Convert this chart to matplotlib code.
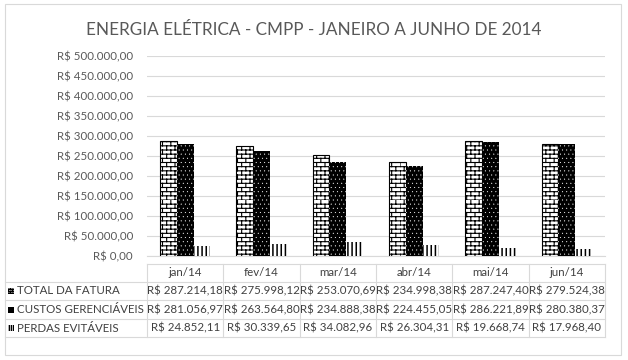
import numpy as np
import matplotlib
matplotlib.use("Agg")
import matplotlib.pyplot as plt
import matplotlib.hatch as mhatch
from matplotlib.path import Path
from matplotlib.patches import Rectangle
from matplotlib.lines import Line2D
from matplotlib.transforms import blended_transform_factory
from matplotlib.ticker import FuncFormatter, MultipleLocator

# --- data -------------------------------------------------------------------
months = ["jan/14", "fev/14", "mar/14", "abr/14", "mai/14", "jun/14"]
series_names = ["TOTAL DA FATURA", "CUSTOS GERENCIÁVEIS", "PERDAS EVITÁVEIS"]
total_fatura = [287214.18, 275998.12, 253070.69, 234998.38, 287247.40, 279524.38]
custos_gerenciaveis = [281056.97, 263564.80, 234888.38, 224455.05, 286221.89, 280380.37]
perdas_evitaveis = [24852.11, 30339.65, 34082.96, 26304.31, 19668.74, 17968.40]
title = "ENERGIA ELÉTRICA - CMPP - JANEIRO A JUNHO DE 2014"


# --- brick hatch ('b'), not part of matplotlib -------------------------------
class BrickHatch(mhatch.HatchPatternBase):
    def __init__(self, hatch, density):
        self.rows = int(hatch.count("b") * density)
        self.cols = max(self.rows // 2, 1)
        self.num_vertices = (self.rows * 2 + self.rows * self.cols * 2) if self.rows else 0

    def set_vertices_and_codes(self, vertices, codes):
        h = 1.0 / self.rows
        w = 1.0 / self.cols
        k = 0
        for r in range(self.rows):
            y0 = r * h
            vertices[k] = (0.0, y0)
            vertices[k + 1] = (1.0, y0)
            k += 2
            off = 0.0 if r % 2 == 0 else w / 2
            for c in range(self.cols):
                xx = c * w + off
                vertices[k] = (xx, y0)
                vertices[k + 1] = (xx, y0 + h)
                k += 2
        codes[0::2] = Path.MOVETO
        codes[1::2] = Path.LINETO


mhatch._hatch_types.append(BrickHatch)
mhatch._validate_hatch_pattern = lambda hatch: None

plt.rcParams["font.family"] = ["Lato", "DejaVu Sans"]
plt.rcParams["hatch.linewidth"] = 1.0

W, H = 628, 360
fig = plt.figure(figsize=(6.28, 3.6), dpi=100)


def fx(px):
    return px / W


def fy(py):
    return 1 - py / H


def fmt_brl(v):
    s = f"{v:,.2f}"
    return "R$ " + s.replace(",", "X").replace(".", ",").replace("X", ".")


def hatch_lw(container, lw):
    for p in container:
        if hasattr(p, "set_hatch_linewidth"):
            p.set_hatch_linewidth(lw)


text_col = "#404040"
grid_col = "#d9d9d9"
fs = 8.3

ax = fig.add_axes([fx(147), fy(256), fx(605) - fx(147), fy(56) - fy(256)])
x = np.arange(len(months))
bw = 0.22

b1 = ax.bar(x - bw, total_fatura, bw, facecolor="white", edgecolor="black",
            linewidth=0.8, hatch="bbbb", zorder=3)
b2 = ax.bar(x, custos_gerenciaveis, bw, facecolor="black", edgecolor="white",
            linewidth=0, hatch="....", zorder=3)
b3 = ax.bar(x + bw, perdas_evitaveis, bw, facecolor="white", edgecolor="black",
            linewidth=0, hatch="||||", zorder=3)
hatch_lw(b1, 0.8)
hatch_lw(b2, 0.2)
hatch_lw(b3, 1.1)

ax.set_xlim(-0.5, len(months) - 0.5)
ax.set_ylim(0, 500000)
ax.yaxis.set_major_locator(MultipleLocator(50000))
ax.yaxis.set_major_formatter(FuncFormatter(lambda v, p: fmt_brl(v)))
ax.set_xticks([])
ax.grid(axis="y", color=grid_col, linewidth=0.8, zorder=0)
for sp in ["top", "right", "left"]:
    ax.spines[sp].set_visible(False)
ax.spines["bottom"].set_color(grid_col)
ax.tick_params(axis="y", length=0, pad=10, labelsize=8.3, labelcolor="#595959")

fig.text(0.5, fy(30), title, ha="center", va="center", fontsize=12.3,
         fontweight="normal", color="#595959")

# outer chart border
fig.add_artist(Rectangle((fx(5), fy(355)), fx(621) - fx(5), fy(4) - fy(355),
                         transform=fig.transFigure, facecolor="none",
                         edgecolor=grid_col, linewidth=0.8))

# --- data table below the axes ----------------------------------------------
tr = blended_transform_factory(ax.transData, fig.transFigure)
row_lines = [264, 282, 300, 319, 337]
xl, xr = -0.5, len(months) - 0.5

fig.add_artist(Line2D([xl, xr], [fy(row_lines[0])] * 2, transform=tr,
                      color=grid_col, linewidth=0.8))
for py in row_lines[1:]:
    fig.add_artist(Line2D([fx(5), fx(605)], [fy(py)] * 2, transform=fig.transFigure,
                          color=grid_col, linewidth=0.8))
for b in np.arange(len(months) + 1) - 0.5:
    fig.add_artist(Line2D([b, b], [fy(row_lines[0]), fy(row_lines[-1])], transform=tr,
                          color=grid_col, linewidth=0.8))

for i, m in enumerate(months):
    fig.text(i, fy((row_lines[0] + row_lines[1]) / 2), m, transform=tr,
             ha="center", va="center", fontsize=fs, color=text_col)

rows = [total_fatura, custos_gerenciaveis, perdas_evitaveis]
for r, (name, vals) in enumerate(zip(series_names, rows)):
    yc = fy((row_lines[r + 1] + row_lines[r + 2]) / 2)
    fig.text(fx(17), yc, name, ha="left", va="center", fontsize=fs, color=text_col)
    for i, v in enumerate(vals):
        fig.text(i, yc, fmt_brl(v), transform=tr, ha="center", va="center",
                 fontsize=fs, color=text_col)

# legend keys in the row labels
key_styles = [
    dict(facecolor="white", edgecolor="black", hatch="bbbbbbbb", linewidth=0),
    dict(facecolor="black", edgecolor="black", linewidth=0),
    dict(facecolor="white", edgecolor="black", hatch="||||||||", linewidth=0),
]
for r, st in enumerate(key_styles):
    yc = (row_lines[r + 1] + row_lines[r + 2]) / 2
    fig.add_artist(Rectangle((fx(8), fy(yc + 3)), fx(6), fy(0) - fy(6),
                             transform=fig.transFigure, **st))

fig.savefig("out.png", dpi=100)
